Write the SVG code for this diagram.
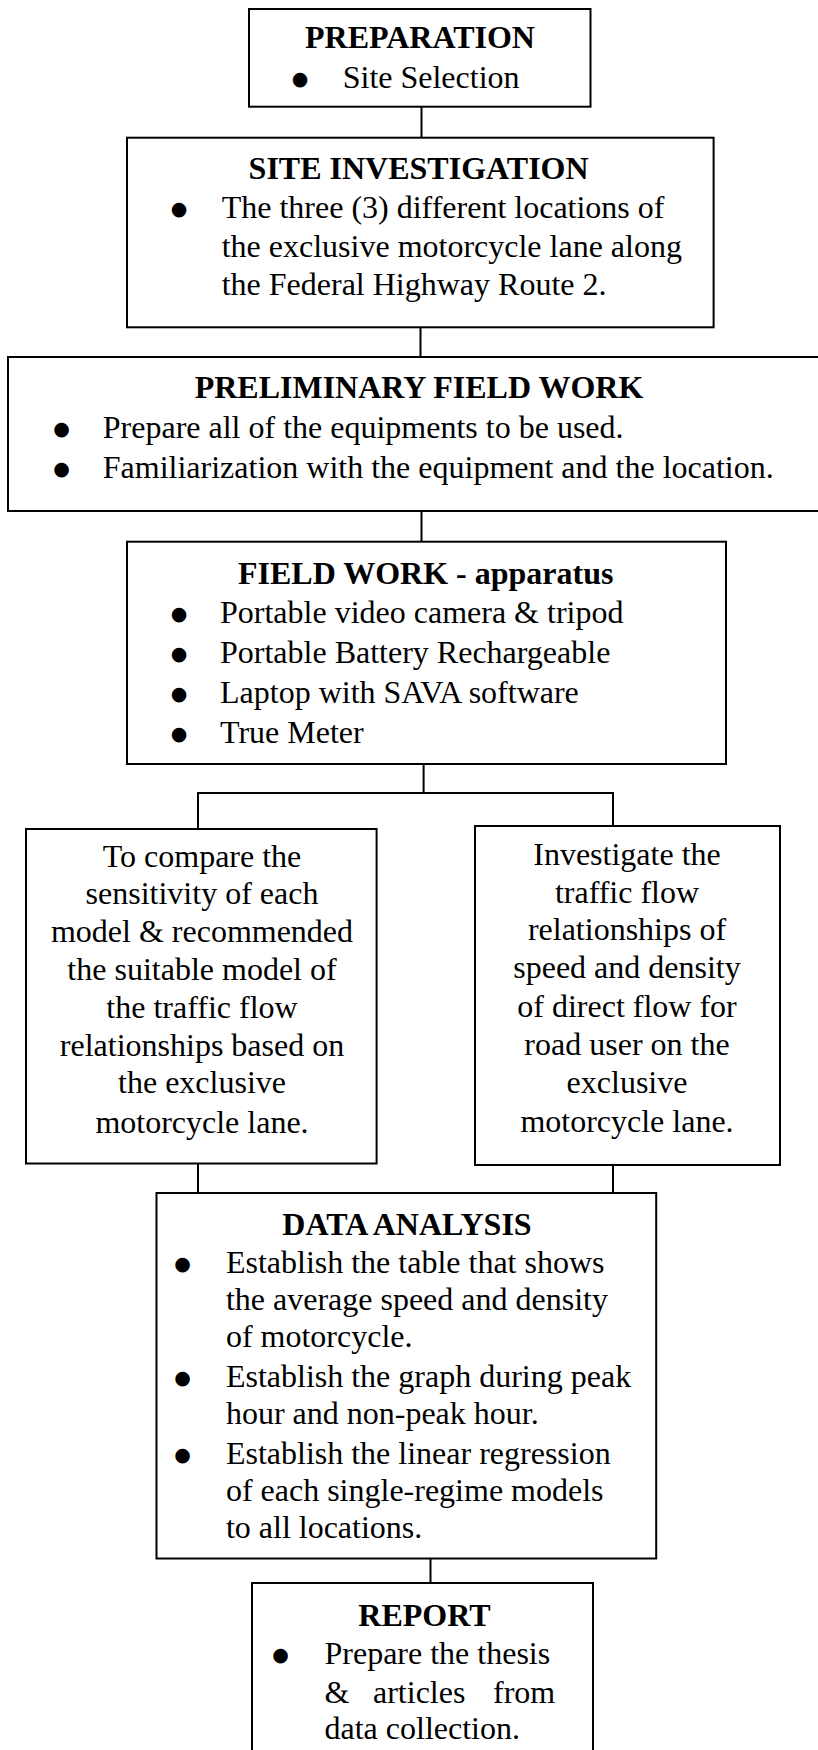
<svg xmlns="http://www.w3.org/2000/svg" width="818" height="1750" viewBox="0 0 818 1750">
<style>
  .box { fill: #ffffff; stroke: #000000; stroke-width: 2; }
  .con { fill: none; stroke: #000000; stroke-width: 2; }
  text { font-family: "Liberation Serif", "Times New Roman", serif; font-size: 32px; fill: #000000; }
  .t { font-weight: bold; text-anchor: middle; }
  .c { text-anchor: middle; }
  .b { text-anchor: middle; font-family: "DejaVu Sans", sans-serif; font-size: 19px; }
</style>
<rect x="0" y="0" width="818" height="1750" fill="#ffffff"/>

<g id="connectors">
  <line class="con" x1="421.5" y1="106.7" x2="421.5" y2="137.7"/>
  <line class="con" x1="420.5" y1="327.3" x2="420.5" y2="357"/>
  <line class="con" x1="421.5" y1="511" x2="421.5" y2="541.7"/>
  <polyline class="con" points="423.6,764 423.6,793"/>
  <polyline class="con" points="198,829 198,793 613,793 613,826"/>
  <line class="con" x1="198" y1="1163.5" x2="198" y2="1193"/>
  <line class="con" x1="613" y1="1165" x2="613" y2="1193"/>
  <line class="con" x1="430.5" y1="1558.5" x2="430.5" y2="1583"/>
</g>

<g id="preparation">
  <rect class="box" x="249" y="9" width="341.5" height="97.7"/>
  <text class="t" x="420" y="48.3">PREPARATION</text>
  <text class="b" x="300" y="85.3">●</text>
  <text x="342.7" y="88.3">Site Selection</text>
</g>

<g id="site-investigation">
  <rect class="box" x="127" y="137.7" width="586.6" height="189.6"/>
  <text class="t" x="418.6" y="179">SITE INVESTIGATION</text>
  <text class="b" x="179" y="215.3">●</text>
  <text x="221.7" y="218.3">The three (3) different locations of</text>
  <text x="221.7" y="256.5">the exclusive motorcycle lane along</text>
  <text x="221.7" y="295">the Federal Highway Route 2.</text>
</g>

<g id="preliminary-field-work">
  <rect class="box" x="8" y="357" width="820" height="154"/>
  <text class="t" x="419" y="398.3">PRELIMINARY FIELD WORK</text>
  <text class="b" x="61.6" y="435.3">●</text>
  <text x="102.8" y="438.3">Prepare all of the equipments to be used.</text>
  <text class="b" x="61.6" y="475.3">●</text>
  <text x="102.8" y="478.3">Familiarization with the equipment and the location.</text>
</g>

<g id="field-work">
  <rect class="box" x="127" y="541.7" width="599" height="222.3"/>
  <text class="t" x="425.7" y="584">FIELD WORK - apparatus</text>
  <text class="b" x="179" y="620.3">●</text>
  <text x="220" y="623.3">Portable video camera &amp; tripod</text>
  <text class="b" x="179" y="660.3">●</text>
  <text x="220" y="663.3">Portable Battery Rechargeable</text>
  <text class="b" x="179" y="700.3">●</text>
  <text x="220" y="703.3">Laptop with SAVA software</text>
  <text class="b" x="179" y="740.3">●</text>
  <text x="220" y="743.3">True Meter</text>
</g>

<g id="compare-models">
  <rect class="box" x="26" y="829" width="350.6" height="334.5"/>
  <text class="c" x="202" y="866.7">To compare the</text>
  <text class="c" x="202" y="904">sensitivity of each</text>
  <text class="c" x="202" y="941.7">model &amp; recommended</text>
  <text class="c" x="202" y="980">the suitable model of</text>
  <text class="c" x="202" y="1018">the traffic flow</text>
  <text class="c" x="202" y="1056">relationships based on</text>
  <text class="c" x="202" y="1093">the exclusive</text>
  <text class="c" x="202" y="1132.7">motorcycle lane.</text>
</g>

<g id="investigate-relationships">
  <rect class="box" x="475" y="826" width="305" height="339"/>
  <text class="c" x="627" y="865">Investigate the</text>
  <text class="c" x="627" y="903">traffic flow</text>
  <text class="c" x="627" y="940">relationships of</text>
  <text class="c" x="627" y="978">speed and density</text>
  <text class="c" x="627" y="1016.7">of direct flow for</text>
  <text class="c" x="627" y="1055">road user on the</text>
  <text class="c" x="627" y="1093">exclusive</text>
  <text class="c" x="627" y="1131.7">motorcycle lane.</text>
</g>

<g id="data-analysis">
  <rect class="box" x="156.5" y="1193" width="499.7" height="365.5"/>
  <text class="t" x="407" y="1234.5">DATA ANALYSIS</text>
  <text class="b" x="182.6" y="1269.7">●</text>
  <text x="225.9" y="1272.7">Establish the table that shows</text>
  <text x="225.9" y="1310.2">the average speed and density</text>
  <text x="225.9" y="1347.3">of motorcycle.</text>
  <text class="b" x="182.6" y="1384.3">●</text>
  <text x="225.9" y="1387.3">Establish the graph during peak</text>
  <text x="225.9" y="1424.4">hour and non-peak hour.</text>
  <text class="b" x="182.6" y="1460.6">●</text>
  <text x="225.9" y="1463.6">Establish the linear regression</text>
  <text x="225.9" y="1500.7">of each single-regime models</text>
  <text x="225.9" y="1538.2">to all locations.</text>
</g>

<g id="report">
  <rect class="box" x="252" y="1583" width="341" height="200"/>
  <text class="t" x="424.4" y="1625.5">REPORT</text>
  <text class="b" x="280.5" y="1661">●</text>
  <text x="324.5" y="1664">Prepare the thesis</text>
  <text x="324.5" y="1703">&amp;</text>
  <text x="373" y="1703">articles</text>
  <text x="493" y="1703">from</text>
  <text x="324.5" y="1739">data collection.</text>
</g>
</svg>
